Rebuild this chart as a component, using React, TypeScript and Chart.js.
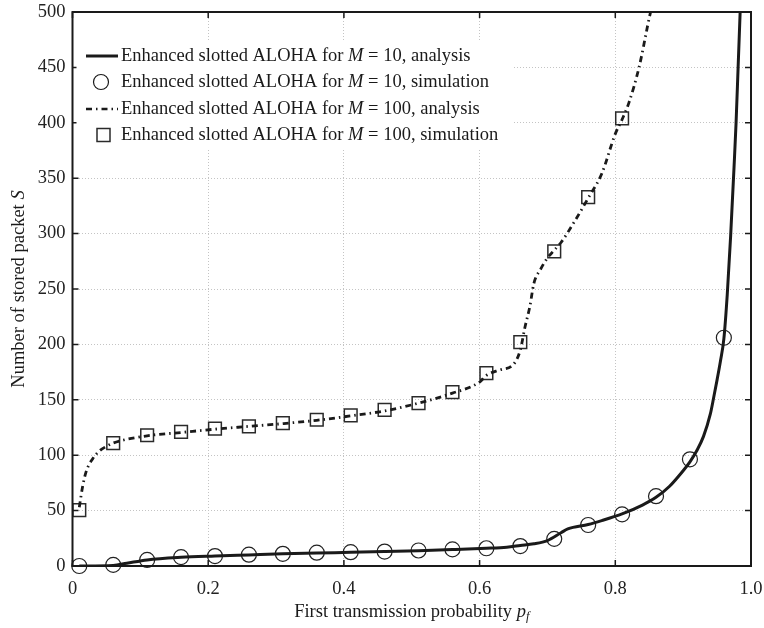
import React, { useEffect, useRef } from 'react';
import { Chart, registerables } from 'chart.js';

Chart.register(...registerables);

const FONT = '"Liberation Serif", "Times New Roman", serif';
const FS = 18.5;

// Simulation sample points
const simX10 = [0.01, 0.06, 0.11, 0.16, 0.21, 0.26, 0.31, 0.36, 0.41, 0.46, 0.51, 0.56, 0.61, 0.66, 0.71, 0.76, 0.81, 0.86, 0.91, 0.96];
const simY10 = [0, 1, 5.5, 8, 9, 10.2, 11, 12, 12.5, 13, 14, 15, 16, 18, 24.5, 37, 46.6, 63, 96.3, 206];

const simX100 = [0.01, 0.06, 0.11, 0.16, 0.21, 0.26, 0.31, 0.36, 0.41, 0.46, 0.51, 0.56, 0.61, 0.66, 0.71, 0.76, 0.81];
const simY100 = [50.5, 111, 118, 121, 124, 126, 129, 132, 136, 141, 147, 157, 174, 202, 284, 333, 404];

// Analysis curves
const anaX10 = [0.01, 0.06, 0.08, 0.11, 0.16, 0.21, 0.26, 0.31, 0.36, 0.41, 0.46, 0.51, 0.56, 0.61, 0.64, 0.66, 0.68, 0.70, 0.72, 0.73, 0.76, 0.78, 0.81, 0.84, 0.86, 0.88, 0.90, 0.91, 0.92, 0.93, 0.94, 0.945, 0.95, 0.955, 0.96, 0.965, 0.97, 0.975, 0.978, 0.981, 0.984, 0.987];
const anaY10 = [0, 0.5, 2.5, 5.5, 7.8, 9, 10, 11, 11.8, 12.3, 13, 13.8, 14.8, 16, 17, 18.5, 20, 23, 30, 33.5, 37.5, 41, 47, 55, 62, 72, 86, 94, 104, 117, 137, 152, 168, 185, 205, 245, 298, 360, 400, 450, 500, 550];

const anaX100 = [0.01, 0.015, 0.02, 0.03, 0.04, 0.05, 0.06, 0.11, 0.16, 0.21, 0.26, 0.31, 0.36, 0.41, 0.46, 0.51, 0.56, 0.60, 0.61, 0.63, 0.65, 0.66, 0.667, 0.674, 0.68, 0.69, 0.70, 0.71, 0.72, 0.74, 0.76, 0.78, 0.80, 0.81, 0.82, 0.835, 0.852, 0.86];
const anaY100 = [53, 72, 85, 97, 104, 108, 111, 117.5, 120.5, 123.5, 126, 128.5, 131.5, 135.5, 140, 147, 156, 166, 172, 177, 182, 195, 216, 234, 255, 268, 278, 285, 292, 311, 332, 354, 390, 403, 418, 450, 500, 518];

const xTicks = [0, 0.2, 0.4, 0.6, 0.8, 1.0];
const xTickLabels = ['0', '0.2', '0.4', '0.6', '0.8', '1.0'];
const yTicks = [0, 50, 100, 150, 200, 250, 300, 350, 400, 450, 500];

const legendPre = ['Enhanced slotted ALOHA for ', 'Enhanced slotted ALOHA for ', 'Enhanced slotted ALOHA for ', 'Enhanced slotted ALOHA for '];
const legendPost = [' = 10, analysis', ' = 10, simulation', ' = 100, analysis', ' = 100, simulation'];

const INK = '#1a1a1a';
const DASHDOT = [6, 4, 1.5, 4];

function drawMixed(ctx: CanvasRenderingContext2D, parts: { t: string; italic?: boolean; sub?: boolean }[], x: number, y: number, align: 'left' | 'center') {
  const fonts = parts.map(p => `${p.italic ? 'italic ' : ''}${p.sub ? 12.5 : FS}px ${FONT}`);
  const widths = parts.map((p, i) => { ctx.font = fonts[i]; return ctx.measureText(p.t).width; });
  const total = widths.reduce((a, b) => a + b, 0);
  let cx = align === 'center' ? x - total / 2 : x;
  ctx.textAlign = 'left';
  ctx.textBaseline = 'middle';
  parts.forEach((p, i) => {
    ctx.font = fonts[i];
    ctx.fillText(p.t, cx, p.sub ? y + 5 : y);
    cx += widths[i];
  });
}

const decorPlugin = {
  id: 'decor',
  afterDatasetsDraw(chart: any) {
    const { ctx, chartArea: a, scales } = chart;
    ctx.save();
    ctx.strokeStyle = INK;
    ctx.lineWidth = 2;
    ctx.strokeRect(a.left, a.top, a.right - a.left, a.bottom - a.top);
    ctx.lineWidth = 1.5;
    const tl = 6;
    ctx.beginPath();
    xTicks.forEach(v => {
      const px = scales.x.getPixelForValue(v);
      ctx.moveTo(px, a.bottom); ctx.lineTo(px, a.bottom - tl);
      ctx.moveTo(px, a.top); ctx.lineTo(px, a.top + tl);
    });
    yTicks.forEach(v => {
      const py = scales.y.getPixelForValue(v);
      ctx.moveTo(a.left, py); ctx.lineTo(a.left + tl, py);
      ctx.moveTo(a.right, py); ctx.lineTo(a.right - tl, py);
    });
    ctx.stroke();
    ctx.restore();
  },
  afterDraw(chart: any) {
    const { ctx, chartArea: a } = chart;
    ctx.save();
    // legend
    ctx.fillStyle = '#ffffff';
    ctx.fillRect(a.left + 4, 40, 436, 108);
    const rows = [56, 82, 109, 135];
    const sx0 = 86, sx1 = 118, tx = 121;
    ctx.strokeStyle = INK;
    ctx.lineWidth = 3;
    ctx.beginPath(); ctx.moveTo(sx0, rows[0]); ctx.lineTo(sx1, rows[0]); ctx.stroke();
    ctx.lineWidth = 1.2;
    ctx.beginPath(); ctx.arc(101, rows[1], 7.5, 0, Math.PI * 2); ctx.stroke();
    ctx.lineWidth = 2.5;
    ctx.setLineDash(DASHDOT);
    ctx.beginPath(); ctx.moveTo(sx0, rows[2]); ctx.lineTo(sx1, rows[2]); ctx.stroke();
    ctx.setLineDash([]);
    ctx.lineWidth = 1.5;
    ctx.strokeStyle = '#2a2a2a';
    ctx.strokeRect(97, rows[3] - 6.5, 13, 13);
    ctx.fillStyle = INK;
    rows.forEach((ry, i) => {
      drawMixed(ctx, [{ t: legendPre[i] }, { t: 'M', italic: true }, { t: legendPost[i] }], tx, ry, 'left');
    });
    // axis titles
    const cxp = (a.left + a.right) / 2;
    drawMixed(ctx, [{ t: 'First transmission probability ' }, { t: 'p', italic: true }, { t: 'f', italic: true, sub: true }], cxp, 612, 'center');
    ctx.save();
    ctx.translate(19, (a.top + a.bottom) / 2);
    ctx.rotate(-Math.PI / 2);
    drawMixed(ctx, [{ t: 'Number of stored packet ' }, { t: 'S', italic: true }], 0, 0, 'center');
    ctx.restore();
    ctx.restore();
  },
};

export default function App() {
  const ref = useRef<HTMLCanvasElement | null>(null);
  useEffect(() => {
    if (!ref.current) return;
    const chart = new Chart(ref.current, {
      type: 'scatter',
      data: {
        datasets: [
          {
            label: 'M=10 analysis',
            data: anaX10.map((x, i) => ({ x, y: anaY10[i] })),
            showLine: true,
            borderColor: INK,
            borderWidth: 3,
            pointRadius: 0,
            cubicInterpolationMode: 'monotone',
            clip: 0,
          } as any,
          {
            label: 'M=10 simulation',
            data: simX10.map((x, i) => ({ x, y: simY10[i] })),
            showLine: false,
            pointStyle: 'circle',
            pointRadius: 7.5,
            pointBorderWidth: 1.2,
            borderColor: '#222',
            backgroundColor: 'rgba(0,0,0,0)',
            clip: false,
          } as any,
          {
            label: 'M=100 analysis',
            data: anaX100.map((x, i) => ({ x, y: anaY100[i] })),
            showLine: true,
            borderColor: INK,
            borderWidth: 2.8,
            borderDash: DASHDOT,
            pointRadius: 0,
            cubicInterpolationMode: 'monotone',
            clip: 0,
          } as any,
          {
            label: 'M=100 simulation',
            data: simX100.map((x, i) => ({ x, y: simY100[i] })),
            showLine: false,
            pointStyle: 'rect',
            pointRadius: 9,
            pointBorderWidth: 1.5,
            borderColor: '#2a2a2a',
            backgroundColor: 'rgba(0,0,0,0)',
            clip: false,
          } as any,
        ],
      },
      options: {
        animation: false,
        responsive: false,
        devicePixelRatio: 1,
        events: [],
        layout: { padding: { top: 12, right: 13, left: 0, bottom: 0 } },
        plugins: { legend: { display: false }, tooltip: { enabled: false } },
        scales: {
          x: {
            type: 'linear',
            min: 0,
            max: 1,
            afterBuildTicks: (s: any) => { s.ticks = xTicks.map(v => ({ value: v })); },
            afterFit: (s: any) => { s.height = 62; s.paddingLeft = 0; s.paddingRight = 0; },
            grid: { color: '#c4c4c4', lineWidth: 1, drawTicks: false },
            border: { display: false, dash: [1, 2] },
            ticks: {
              autoSkip: false,
              maxRotation: 0,
              padding: 12,
              color: '#222',
              font: { family: FONT, size: FS },
              callback: (v: any) => { const i = xTicks.findIndex(t => Math.abs(t - v) < 1e-6); return i >= 0 ? xTickLabels[i] : ''; },
            },
          },
          y: {
            type: 'linear',
            min: 0,
            max: 500,
            afterBuildTicks: (s: any) => { s.ticks = yTicks.map(v => ({ value: v })); },
            afterFit: (s: any) => { s.width = 72.5; s.paddingTop = 0; s.paddingBottom = 0; },
            grid: { color: '#c4c4c4', lineWidth: 1, drawTicks: false },
            border: { display: false, dash: [1, 2] },
            ticks: {
              padding: 7,
              color: '#222',
              font: { family: FONT, size: FS },
              callback: (v: any) => String(v),
            },
          },
        },
      } as any,
      plugins: [decorPlugin],
    });
    return () => chart.destroy();
  }, []);
  return (
    <div style={{ position: 'fixed', left: 0, top: 0, width: 764, height: 628, background: '#fff' }}>
      <canvas ref={ref} width={764} height={628} style={{ display: 'block' }} />
    </div>
  );
}
